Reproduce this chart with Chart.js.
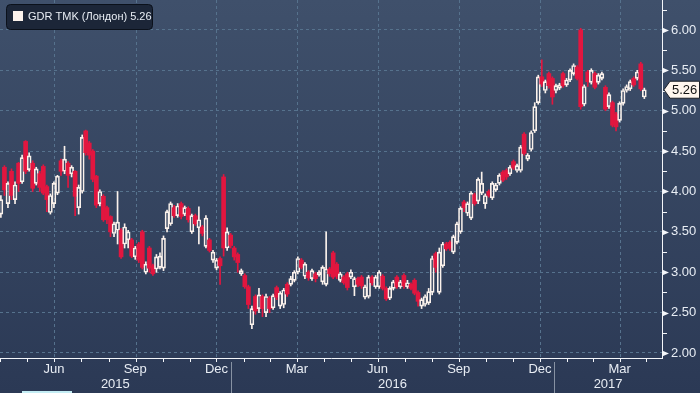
<!DOCTYPE html>
<html>
<head>
<meta charset="utf-8">
<script src="https://cdn.jsdelivr.net/npm/chart.js@4.4.0/dist/chart.umd.min.js"></script>
<style>
  html, body { margin: 0; padding: 0; background: #2e3c58; }
  #wrap { width: 700px; height: 393px; }
</style>
</head>
<body>
<div id="wrap"><canvas id="chart" width="700" height="393"></canvas></div>
<script>
const seriesName = "GDR TMK (Лондон)";
const firstCandle = "2015-04-16"; // one candle every 4 days
const candleStepDays = 4;

const open = [
  3.72,4.30,3.85,4.25,3.90,4.35,4.12,4.62,4.27,4.35,
  4.10,4.22,4.31,4.06,3.74,3.85,3.98,4.38,4.25,4.35,
  4.22,4.25,3.80,4.00,4.75,4.60,4.50,4.19,3.85,3.94,
  3.80,3.69,3.48,3.52,3.52,3.35,3.40,3.40,3.19,3.35,
  3.50,3.00,3.30,3.08,3.04,3.06,3.05,3.54,3.60,3.80,
  3.70,3.85,3.72,3.79,3.50,3.70,3.55,3.56,3.32,3.40,
  3.15,3.05,3.17,4.18,3.30,3.46,3.30,3.22,2.98,2.96,
  2.82,2.35,2.70,2.55,2.70,2.50,2.68,2.56,2.81,2.58,
  2.60,2.85,2.85,2.90,3.00,3.15,2.95,3.00,2.92,2.98,
  2.97,2.88,2.85,3.04,3.24,3.10,2.90,2.94,2.98,2.94,
  2.82,2.92,2.94,2.69,2.70,2.94,2.82,2.82,2.95,2.80,
  2.68,2.80,2.94,2.82,2.96,2.82,2.85,2.90,2.75,2.58,
  2.60,2.62,2.75,3.23,2.75,3.08,3.35,3.37,3.25,3.37,
  3.50,3.87,3.73,3.67,3.96,3.88,3.98,3.85,4.00,3.92,
  4.02,4.10,4.24,4.26,4.22,4.37,4.26,4.26,4.71,4.40,
  4.52,4.75,5.10,5.42,5.25,5.46,5.40,5.25,5.28,5.46,
  5.32,5.38,5.46,5.54,6.00,5.08,5.48,5.35,5.46,5.35,
  5.40,5.29,5.05,5.10,4.96,4.88,5.09,5.25,5.27,5.40,
  5.40,5.58,5.17
];
const high = [
  3.95,4.32,4.12,4.28,4.12,4.36,4.45,4.63,4.48,4.38,
  4.30,4.25,4.33,4.08,3.97,4.12,4.20,4.40,4.56,4.37,
  4.32,4.26,4.08,4.70,4.76,4.62,4.52,4.20,4.02,3.96,
  3.82,3.70,3.62,4.00,3.54,3.60,3.52,3.42,3.32,3.37,
  3.52,3.13,3.32,3.10,3.22,3.24,3.45,3.77,3.87,3.83,
  3.85,3.87,3.82,3.81,3.72,3.72,3.81,3.58,3.70,3.42,
  3.27,3.17,3.19,4.21,3.55,3.48,3.32,3.24,3.04,2.98,
  2.84,2.58,2.72,2.80,2.72,2.73,2.70,2.73,2.83,2.76,
  2.80,2.87,2.95,3.02,3.19,3.17,3.12,3.02,3.04,3.00,
  3.02,3.08,3.50,3.06,3.26,3.12,3.00,2.96,3.00,3.03,
  2.94,2.94,2.96,2.84,2.96,2.96,2.96,3.02,2.97,2.82,
  2.82,2.90,2.96,2.90,2.98,2.90,2.87,2.92,2.77,2.68,
  2.72,2.80,3.20,3.25,3.30,3.37,3.37,3.39,3.46,3.62,
  3.81,3.89,3.87,4.00,3.98,4.17,4.24,3.97,4.02,4.12,
  4.10,4.22,4.26,4.28,4.32,4.39,4.34,4.57,4.73,4.47,
  4.75,5.10,5.44,5.63,5.38,5.48,5.42,5.33,5.34,5.48,
  5.40,5.52,5.58,5.56,6.02,5.32,5.50,5.52,5.48,5.46,
  5.48,5.31,5.22,5.12,4.98,5.11,5.27,5.32,5.38,5.42,
  5.50,5.60,5.28
];
const low = [
  3.68,3.95,3.80,3.90,3.85,4.00,4.10,4.22,4.25,4.00,
  4.08,4.00,3.96,3.75,3.72,3.80,3.96,4.20,4.22,4.05,
  4.18,3.70,3.72,3.98,4.45,4.40,4.12,3.80,3.82,3.63,
  3.60,3.44,3.44,3.35,3.17,3.30,3.30,3.18,3.16,3.12,
  3.04,2.98,3.00,2.96,3.00,3.04,3.02,3.50,3.58,3.68,
  3.68,3.66,3.70,3.62,3.48,3.58,3.35,3.45,3.30,3.25,
  3.12,3.03,2.85,3.20,3.27,3.30,3.15,3.00,2.96,2.80,
  2.55,2.30,2.48,2.50,2.45,2.45,2.50,2.54,2.66,2.55,
  2.56,2.70,2.83,2.88,2.98,3.04,2.92,2.90,2.90,2.88,
  2.95,2.85,2.83,2.95,2.92,2.92,2.88,2.85,2.78,2.92,
  2.71,2.82,2.80,2.67,2.68,2.84,2.80,2.80,2.78,2.65,
  2.66,2.78,2.80,2.80,2.80,2.80,2.78,2.72,2.58,2.55,
  2.58,2.60,2.72,3.00,2.73,3.06,3.27,3.27,3.23,3.35,
  3.48,3.75,3.70,3.65,3.83,3.85,3.96,3.79,3.93,3.90,
  4.00,4.08,4.12,4.15,4.20,4.27,4.24,4.24,4.45,4.38,
  4.50,4.73,5.08,5.30,5.22,5.28,5.08,5.22,5.26,5.29,
  5.30,5.36,5.44,5.38,5.02,5.06,5.30,5.33,5.27,5.33,
  5.38,5.00,5.03,4.80,4.75,4.86,5.07,5.23,5.25,5.30,
  5.38,5.25,5.15
];
const close = [
  3.90,4.02,4.10,3.95,4.08,4.10,4.42,4.25,4.44,4.04,
  4.28,4.05,3.98,3.90,3.95,4.10,4.19,4.25,4.40,4.20,
  4.30,3.94,4.05,4.67,4.48,4.45,4.15,3.83,4.00,3.65,
  3.65,3.50,3.60,3.62,3.19,3.56,3.50,3.20,3.30,3.15,
  3.06,3.10,3.05,2.98,3.19,3.20,3.42,3.75,3.85,3.70,
  3.82,3.69,3.80,3.65,3.70,3.60,3.65,3.48,3.67,3.27,
  3.25,3.15,3.08,3.30,3.50,3.33,3.19,3.12,3.02,2.82,
  2.60,2.55,2.52,2.72,2.55,2.70,2.55,2.71,2.69,2.74,
  2.78,2.73,2.92,3.00,3.17,3.06,3.10,2.93,3.02,2.92,
  3.00,3.06,3.04,2.98,2.94,2.95,2.98,2.87,2.81,3.00,
  2.92,2.85,2.83,2.82,2.94,2.87,2.94,3.00,2.80,2.67,
  2.80,2.88,2.82,2.88,2.83,2.87,2.80,2.74,2.64,2.66,
  2.70,2.76,3.17,3.06,3.25,3.35,3.29,3.30,3.44,3.60,
  3.79,3.80,3.85,3.98,3.85,4.15,4.10,3.95,3.95,4.10,
  4.08,4.20,4.14,4.18,4.30,4.29,4.32,4.55,4.47,4.45,
  4.73,5.05,5.42,5.33,5.36,5.31,5.17,5.31,5.32,5.31,
  5.38,5.50,5.56,5.40,5.05,5.30,5.36,5.50,5.29,5.44,
  5.46,5.02,5.20,4.82,4.80,5.09,5.25,5.30,5.36,5.32,
  5.48,5.27,5.26
];

const yMajorTicks = [2.0, 2.5, 3.0, 3.5, 4.0, 4.5, 5.0, 5.5, 6.0];
const monthLabels = ["Jun", "Sep", "Dec", "Mar", "Jun", "Sep", "Dec", "Mar"];
const monthLabelDates = ["2015-06-15", "2015-09-15", "2015-12-16", "2016-03-16",
                         "2016-06-15", "2016-09-15", "2016-12-16", "2017-03-16"];
const yearLabels = ["2015", "2016", "2017"];

const DAY = 86400000;
const xMin = Date.parse("2015-04-15");
const xMax = Date.parse("2017-05-03");
const yMin = 1.938;
const yMax = 6.371;

const RED = "#e2163f";
const WHITE = "#fbf2ec";
const GRID = "#56728d";
const TEXT = "#e8edf4";
const FONT = "Liberation Sans";

const t0 = Date.parse(firstCandle);
const times = open.map((_, i) => t0 + i * candleStepDays * DAY);
const isUp = close.map((c, i) => c >= open[i]);
const candleColor = isUp.map(u => (u ? WHITE : RED));

// month starts for the small ticks under the axis
const monthStarts = [];
for (let y = 2015, m = 4; y < 2017 || m <= 4; m++) {
  if (m > 11) { m = 0; y++; }
  monthStarts.push(Date.UTC(y, m, 1));
}

const chartDecor = {
  id: "chartDecor",
  beforeDraw(chart) {
    const { ctx, width, height } = chart;
    const g = ctx.createLinearGradient(0, 0, 0, height);
    g.addColorStop(0, "#3f506b");
    g.addColorStop(1, "#2b3955");
    ctx.save();
    ctx.fillStyle = g;
    ctx.fillRect(0, 0, width, height);
    ctx.restore();
  },
  afterDraw(chart) {
    const { ctx, chartArea: ca, scales } = chart;
    const xs = scales.x, ys = scales.y;
    ctx.save();

    // axis lines
    ctx.strokeStyle = "#f4f6fa";
    ctx.lineWidth = 1;
    ctx.beginPath();
    ctx.moveTo(ca.left, ca.bottom + 0.5);
    ctx.lineTo(ca.right + 1, ca.bottom + 0.5);
    ctx.moveTo(ca.right + 0.5, ca.top);
    ctx.lineTo(ca.right + 0.5, ca.bottom + 0.5);
    ctx.stroke();

    // y tick markers: triangles on majors, short lines in between
    ctx.fillStyle = "#f4f6fa";
    yMajorTicks.forEach(v => {
      const y = Math.round(ys.getPixelForValue(v)) + 0.5;
      ctx.beginPath();
      ctx.moveTo(ca.right, y - 3);
      ctx.lineTo(ca.right + 7, y);
      ctx.lineTo(ca.right, y + 3);
      ctx.closePath();
      ctx.fill();
      const ym = Math.round(ys.getPixelForValue(v + 0.25)) + 0.5;
      if (ym > ca.top) {
        ctx.beginPath();
        ctx.moveTo(ca.right, ym);
        ctx.lineTo(ca.right + 5, ym);
        ctx.stroke();
      }
    });

    // month and year labels
    ctx.fillStyle = TEXT;
    ctx.font = "13px '" + FONT + "'";
    ctx.textAlign = "center";
    ctx.textBaseline = "middle";
    monthLabels.forEach((lbl, i) => {
      ctx.fillText(lbl, xs.getPixelForValue(Date.parse(monthLabelDates[i])), 369);
    });
    const bounds = [xMin];
    yearLabels.slice(1).forEach(y => bounds.push(Date.UTC(+y, 0, 1)));
    bounds.push(xMax);
    yearLabels.forEach((lbl, i) => {
      const a = xs.getPixelForValue(bounds[i]);
      const b = xs.getPixelForValue(bounds[i + 1]);
      ctx.fillText(lbl, (a + b) / 2, 384);
    });
    ctx.strokeStyle = "#8792a3";
    yearLabels.slice(1).forEach(y => {
      const x = Math.round(xs.getPixelForValue(Date.UTC(+y, 0, 1))) + 0.5;
      ctx.beginPath();
      ctx.moveTo(x, ca.bottom + 4);
      ctx.lineTo(x, 393);
      ctx.stroke();
    });
    ctx.fillStyle = "#c4edf4";
    ctx.fillRect(22, 391, 50, 2);

    // last price tag
    const last = close[close.length - 1];
    const py = ys.getPixelForValue(last);
    ctx.beginPath();
    ctx.moveTo(ca.right + 2, py);
    ctx.lineTo(ca.right + 8, py - 8.5);
    ctx.lineTo(699.5, py - 8.5);
    ctx.lineTo(699.5, py + 8.5);
    ctx.lineTo(ca.right + 8, py + 8.5);
    ctx.closePath();
    ctx.fillStyle = "#fff6ee";
    ctx.fill();
    ctx.strokeStyle = "#1b1f27";
    ctx.stroke();
    ctx.fillStyle = "#111";
    ctx.textAlign = "left";
    ctx.fillText(last.toFixed(2), ca.right + 10, py + 0.5);

    // legend box
    ctx.beginPath();
    ctx.roundRect(6.5, 4.5, 146, 25, 4);
    ctx.fillStyle = "#1c2638";
    ctx.fill();
    ctx.strokeStyle = "#0b111b";
    ctx.stroke();
    ctx.fillStyle = WHITE;
    ctx.fillRect(13, 11, 10, 10);
    ctx.fillStyle = TEXT;
    ctx.font = "11px '" + FONT + "'";
    ctx.fillText(seriesName + " " + last.toFixed(2), 28, 16.5);

    ctx.restore();
  }
};

new Chart(document.getElementById("chart"), {
  type: "bar",
  data: {
    datasets: [
      {
        // lower wicks
        data: times.map((t, i) => ({ x: t, y: [low[i], Math.min(open[i], close[i])] })),
        backgroundColor: candleColor,
        barThickness: 1,
        grouped: false
      },
      {
        // upper wicks
        data: times.map((t, i) => ({ x: t, y: [Math.max(open[i], close[i]), high[i]] })),
        backgroundColor: candleColor,
        barThickness: 1,
        grouped: false
      },
      {
        // bodies: hollow white up, solid red down
        data: times.map((t, i) => ({ x: t, y: [open[i], close[i]] })),
        backgroundColor: isUp.map(u => (u ? "rgba(0,0,0,0)" : RED)),
        borderColor: candleColor,
        borderWidth: isUp.map(u => (u ? 1 : 0)),
        borderSkipped: false,
        barThickness: 4,
        grouped: false
      }
    ]
  },
  options: {
    responsive: false,
    animation: false,
    layout: { padding: 0 },
    plugins: { legend: { display: false }, tooltip: { enabled: false } },
    scales: {
      x: {
        type: "linear",
        min: xMin,
        max: xMax,
        offset: false,
        afterBuildTicks: s => { s.ticks = monthStarts.map(v => ({ value: v })); },
        afterFit: s => { s.height = 35; s.paddingLeft = 0; s.paddingRight = 0; },
        ticks: { display: false },
        grid: {
          color: c => (c.tick && new Date(c.tick.value).getUTCMonth() % 3 === 0 ? GRID : "rgba(0,0,0,0)"),
          tickColor: "#f4f6fa",
          tickLength: 4
        },
        border: { display: false, dash: [3, 3] }
      },
      y: {
        position: "right",
        min: yMin,
        max: yMax,
        afterBuildTicks: s => { s.ticks = yMajorTicks.map(v => ({ value: v })); },
        afterFit: s => { s.width = 38; s.paddingTop = 0; s.paddingBottom = 0; },
        ticks: {
          color: TEXT,
          font: { size: 13, family: FONT },
          padding: 9,
          callback: v => Number(v).toFixed(2)
        },
        grid: { color: GRID, drawTicks: false },
        border: { display: false, dash: [3, 3] }
      }
    }
  },
  plugins: [chartDecor]
});
</script>
</body>
</html>
